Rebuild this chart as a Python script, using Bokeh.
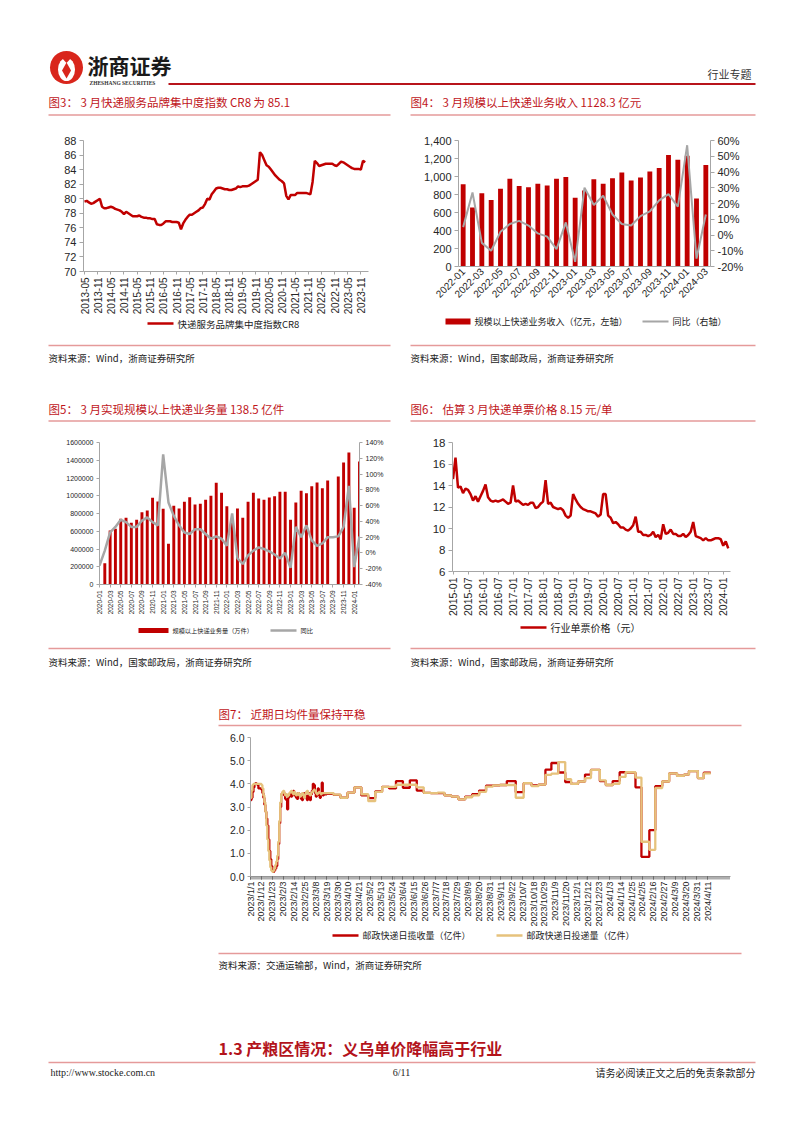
import math
from bokeh.plotting import figure
from bokeh.models import (Range1d, LinearAxis, FixedTicker, Spacer,
                          NumeralTickFormatter, PrintfTickFormatter)
from bokeh.layouts import column, row
from bokeh.embed import file_html
from bokeh.resources import INLINE
from bokeh.core.properties import value

CJK = "Noto Sans CJK SC"
SANS = "Liberation Sans"
SERIF = "Liberation Serif"
RED = "#C00000"
GREY = "#A6A6A6"
GOLD = "#E6C27C"
TITLE_RED = "#C0151B"
PINK = "#E59A9A"

# ---------------- data ----------------
# Fig 3: CR8 index, monthly from 2013-05
cr8_xlabels = ["2013-05", "2013-11", "2014-05", "2014-11", "2015-05", "2015-11", "2016-05",
               "2016-11", "2017-05", "2017-11", "2018-05", "2018-11", "2019-05", "2019-11",
               "2020-05", "2020-11", "2021-05", "2021-11", "2022-05", "2022-11", "2023-05",
               "2023-11"]
cr8_values = [79.6, 79.7, 79.5, 79.3, 79.4, 79.6, 79.8, 80.0, 78.9, 78.7,
              78.7, 78.8, 78.9, 78.8, 78.6, 78.5, 78.4, 78.2, 77.9, 78.2,
              78.0, 77.8, 77.6, 77.6, 77.6, 77.7, 77.5, 77.4, 77.4, 77.3,
              77.3, 77.2, 77.2, 76.5, 76.4, 76.4, 76.6, 76.9, 76.9, 76.9,
              76.8, 76.8, 76.8, 76.7, 75.8, 76.6, 77.1, 77.5, 77.8, 77.8,
              78.0, 78.2, 78.4, 78.7, 78.8, 79.3, 80.0, 79.9, 80.6, 81.0,
              81.4, 81.5, 81.5, 81.4, 81.3, 81.3, 81.2, 81.2, 81.3, 81.4,
              81.7, 81.6, 81.7, 81.7, 81.7, 81.8, 82.0, 82.2, 82.4, 82.6,
              86.4, 86.0, 85.3, 84.6, 84.4, 84.0, 83.6, 83.2, 82.9, 82.6,
              82.4, 82.1, 80.4, 79.9, 80.5, 80.5, 80.5, 80.8, 80.8, 80.8,
              80.8, 80.8, 80.7, 80.6, 82.3, 85.2, 84.9, 84.5, 84.6, 84.7,
              84.8, 84.8, 84.8, 84.8, 84.6, 84.5, 84.8, 85.1, 85.0, 84.8,
              84.6, 84.4, 84.2, 84.1, 84.1, 84.1, 84.0, 85.2, 85.0]
cr8_yticks = [70, 72, 74, 76, 78, 80, 82, 84, 86, 88]

# Fig 4: express revenue (100m yuan) and YoY (%)
rev_months = ["2022-01", "2022-02", "2022-03", "2022-04", "2022-05", "2022-06", "2022-07",
              "2022-08", "2022-09", "2022-10", "2022-11", "2022-12", "2023-01", "2023-02",
              "2023-03", "2023-04", "2023-05", "2023-06", "2023-07", "2023-08", "2023-09",
              "2023-10", "2023-11", "2023-12", "2024-01", "2024-02", "2024-03"]
rev_values = [915, 655, 815, 740, 865, 975, 895, 880, 920, 900, 975, 995, 765, 845,
              970, 920, 980, 1045, 955, 990, 1055, 1095, 1240, 1185, 1230, 755, 1128.3]
rev_yoy = [5, 27, -5, -10, 2, 7, 9, 6, 1, -1, -9, 8, -17, 30,
           19, 25, 13, 7, 6, 12, 15, 22, 26, 18, 57, -15, 13]
rev_yticks = [0, 200, 400, 600, 800, 1000, 1200, 1400]
rev_pticks = [-20, -10, 0, 10, 20, 30, 40, 50, 60]

# Fig 5: express volume (10k pieces) and YoY (%), 2020-01 .. 2024-02
nan = float("nan")
vol_xlabels = ["2020-01", "2020-03", "2020-05", "2020-07", "2020-09", "2020-11", "2021-01",
               "2021-03", "2021-05", "2021-07", "2021-09", "2021-11", "2022-01", "2022-03",
               "2022-05", "2022-07", "2022-09", "2022-11", "2023-01", "2023-03", "2023-05",
               "2023-07", "2023-09", "2023-11", "2024-01"]
vol_values = [nan, 240000, 608000, 627000, 740000, 751000, 695000, 729000, 815000, 834000, 977000, 935000,
              853000, 458000, 886000, 856000, 931000, 984000, 901000, 909000, 954000, 999000, 1146000, 1033000,
              883000, 700000, 856000, 751000, 931000, 1033000, 969000, 954000, 980000, 995000, 1044000, 1044000,
              729000, 924000, 1055000, 1029000, 1108000, 1149000, 1085000, 1172000, nan, 1217000, 1375000,
              1487000, 864000, 1385000]
vol_yoy = [-16, 3, 26, 33, 42, 39, 33, 33, 41, 45, 39, 35,
           125, 64, 47, 35, 26, 24, 30, 30, 24, 18, 21, 18,
           9, 50, -7, -14, -3, 3, 7, 5, 2, -2, -7, 0,
           -19, 33, 20, 35, 16, 9, 12, 20, 20, 21, 33, 85, -18, 21]
vol_yticks = [0, 200000, 400000, 600000, 800000, 1000000, 1200000, 1400000, 1600000]
vol_pticks = [-40, -20, 0, 20, 40, 60, 80, 100, 120, 140]

# Fig 6: price per parcel (yuan), monthly from 2015-01
price_xlabels = ["2015-01", "2015-07", "2016-01", "2016-07", "2017-01", "2017-07", "2018-01",
                 "2018-07", "2019-01", "2019-07", "2020-01", "2020-07", "2021-01", "2021-07",
                 "2022-01", "2022-07", "2023-01", "2023-07", "2024-01"]
price_values = [14.6, 16.6, 13.8, 13.9, 13.3, 13.7, 13.6, 13.2, 12.6, 13.0, 12.5, 13.0,
                13.5, 14.1, 12.9, 12.6, 12.5, 12.6, 12.5, 12.6, 12.7, 12.5, 12.3, 12.4,
                14.0, 12.5, 12.6, 12.4, 12.2, 12.3, 12.2, 12.4, 12.4, 11.9, 12.0, 12.3,
                12.5, 14.5, 12.3, 12.4, 12.0, 11.9, 11.8, 11.9, 11.7, 11.2, 11.0, 11.2,
                13.2, 12.7, 12.3, 12.0, 11.8, 11.7, 11.6, 11.6, 11.5, 11.4, 11.1, 11.3,
                13.2, 13.2, 11.2, 11.0, 10.5, 10.6, 10.4, 10.1, 10.1, 9.9, 9.8, 10.0,
                10.3, 11.1, 9.7, 9.7, 9.4, 9.4, 9.3, 9.4, 9.7, 9.2, 9.4, 9.0,
                10.4, 9.5, 9.6, 9.9, 9.5, 9.5, 9.3, 9.3, 9.5, 9.2, 9.4, 9.7,
                10.6, 9.3, 9.2, 9.1, 8.9, 9.1, 8.9, 8.9, 9.0, 9.1, 9.1, 9.0,
                8.4, 8.8, 8.15]
price_yticks = [6, 8, 10, 12, 14, 16, 18]

# Fig 7: daily postal express volume (100m pieces)
post_xlabels = ["2023/1/1", "2023/1/12", "2023/1/23", "2023/2/3", "2023/2/14", "2023/2/25",
                "2023/3/8", "2023/3/19", "2023/3/30", "2023/4/10", "2023/4/21", "2023/5/2",
                "2023/5/13", "2023/5/24", "2023/6/4", "2023/6/15", "2023/6/26", "2023/7/7",
                "2023/7/18", "2023/7/29", "2023/8/9", "2023/8/20", "2023/8/31", "2023/9/11",
                "2023/9/22", "2023/10/7", "2023/10/18", "2023/10/29", "2023/11/9", "2023/11/20",
                "2023/12/1", "2023/12/12", "2023/12/23", "2024/1/3", "2024/1/14", "2024/1/25",
                "2024/2/5", "2024/2/16", "2024/2/27", "2024/3/9", "2024/3/20", "2024/3/31",
                "2024/4/11"]
post_pick_daily = [3.30, 3.40, 3.65, 3.85, 4.00, 4.03, 4.00, 3.95, 3.80, 3.80,
                   3.80, 3.75, 3.60, 3.40, 3.10, 2.80, 2.50, 2.20, 1.60, 1.10,
                   0.75, 0.45, 0.25, 0.20, 0.27, 0.35, 0.45, 0.75, 1.40, 2.30,
                   3.00, 3.55, 3.60, 3.65, 3.50, 3.35, 3.30, 2.90, 3.40, 3.50,
                   3.55, 3.45, 3.60, 3.70, 3.50, 3.55, 3.40, 3.35, 3.60, 3.55,
                   3.50, 3.35, 3.30, 3.55, 3.60, 3.50, 3.40, 3.30, 3.50, 3.60,
                   3.30, 3.55, 3.70, 4.00, 3.95, 3.60, 3.45, 3.50, 3.80, 3.60,
                   3.40, 3.55, 4.05, 3.50, 3.55, 3.55, 3.55]
post_deliv_daily = [3.40, 3.70, 3.95, 4.00, 4.00, 4.00, 4.00, 4.00, 4.00, 4.00,
                    4.00, 3.95, 3.80, 3.50, 3.20, 2.80, 2.20, 1.60, 1.10, 0.70,
                    0.40, 0.25, 0.20, 0.25, 0.35, 0.50, 0.65, 0.90, 1.50, 2.40,
                    3.20, 3.55, 3.65, 3.70, 3.60, 3.50, 3.55, 3.45, 3.50, 3.60,
                    3.65, 3.70, 3.60, 3.55, 3.65, 3.60, 3.50, 3.55, 3.60, 3.50,
                    3.45, 3.55, 3.60, 3.50, 3.40, 3.55, 3.65, 3.70, 3.60, 3.55,
                    3.50, 3.60, 3.65, 3.70, 3.75, 3.70, 3.60, 3.55, 3.60, 3.65,
                    3.60, 3.55, 3.60, 3.60, 3.60, 3.60, 3.60]
post_week_start = [77, 84, 91, 98, 105, 112, 119, 126, 133, 140,
                   147, 154, 161, 168, 175, 182, 189, 196, 203, 210,
                   217, 224, 231, 238, 245, 252, 259, 268, 276, 284,
                   291, 298, 304, 311, 318, 324, 331, 338, 344, 353,
                   359, 366, 373, 379, 389, 395, 403, 409, 416, 423,
                   431, 438, 443, 452, 458]
post_week_pick = [3.57, 3.52, 3.40, 3.62, 3.85, 3.50, 3.38, 3.67, 3.87, 3.80,
                  4.12, 3.83, 4.15, 3.71, 3.61, 3.60, 3.60, 3.50, 3.45, 3.33,
                  3.45, 3.55, 3.71, 3.92, 3.93, 3.95, 4.12, 3.64, 4.03, 3.93,
                  3.97, 4.61, 4.90, 4.49, 4.08, 4.00, 4.10, 4.40, 4.60, 4.12,
                  3.95, 4.12, 4.50, 4.48, 3.85, 0.85, 2.00, 3.90, 4.10, 4.45,
                  4.35, 4.40, 4.55, 4.25, 4.48]
post_week_deliv = [3.60, 3.53, 3.40, 3.62, 3.85, 3.55, 3.25, 3.65, 3.87, 3.87,
                   3.96, 3.96, 3.96, 3.85, 3.61, 3.60, 3.62, 3.50, 3.45, 3.33,
                   3.42, 3.50, 3.65, 3.88, 3.93, 3.95, 3.95, 3.40, 4.03, 3.90,
                   3.97, 4.39, 4.44, 4.94, 4.20, 4.00, 4.10, 4.25, 4.60, 4.15,
                   3.95, 4.00, 4.30, 4.50, 4.27, 1.50, 1.15, 3.82, 4.10, 4.45,
                   4.35, 4.40, 4.55, 4.25, 4.45]
post_last_day = 465
post_yticks = [0, 1, 2, 3, 4, 5, 6]

W = 786


# ---------------- helpers ----------------
def band(top, h):
    p = figure(width=W, height=h, x_range=Range1d(0, W), y_range=Range1d(top + h, top),
               x_axis_location=None, y_axis_location=None, toolbar_location=None,
               output_backend="svg", min_border=0, outline_line_color=None)
    p.xgrid.visible = False
    p.ygrid.visible = False
    return p


def txt(p, x, y, s, size, color="#222222", font=CJK, align="left", bold=False):
    p.text(x=[x], y=[y], text=[s], text_font=value(font), text_font_size=f"{size}px",
           text_color=color, text_align=align, text_baseline="middle",
           text_font_style="bold" if bold else "normal")


def hline(p, x0, x1, y, color=PINK, width=1.6):
    p.segment(x0=[x0], y0=[y], x1=[x1], y1=[y], line_color=color, line_width=width)


def leg_line(p, x0, y, label, size, color, width=2.5):
    p.segment(x0=[x0], y0=[y], x1=[x0 + 26], y1=[y], line_color=color, line_width=width)
    txt(p, x0 + 30, y, label, size)


def leg_bar(p, x0, y, label, size, w, h):
    p.quad(left=[x0], right=[x0 + w], top=[y - h / 2], bottom=[y + h / 2],
           fill_color=RED, line_color=None)
    txt(p, x0 + w + 4, y, label, size)


def chart(fw, fh, xr, yr, left, right, top, bottom):
    p = figure(frame_width=fw, frame_height=fh, x_range=xr, y_range=yr, toolbar_location=None,
               output_backend="svg", min_border_left=left, min_border_right=right,
               min_border_top=top, min_border_bottom=bottom, outline_line_color=None)
    p.xgrid.visible = False
    p.ygrid.visible = False
    return p


def style_axis(ax, size, tick_out=4, color="#262626", line=GREY):
    ax.axis_line_color = line
    ax.major_tick_line_color = line
    ax.major_tick_out = tick_out
    ax.major_tick_in = 0
    ax.minor_tick_line_color = None
    ax.major_label_text_font = SANS
    ax.major_label_text_font_size = f"{size}px"
    ax.major_label_text_color = color
    ax.major_label_standoff = 3


# ---------------- band A: header + titles 3/4 ----------------
bA = band(0, 118)
bA.ellipse(x=[66], y=[67], width=33, height=33, fill_color="#D9261C", line_color=None)
bA.ellipse(x=[66], y=[69], width=17, height=23, fill_color="white", line_color=None)
bA.patch(x=[66, 70.5, 66, 61.5], y=[62, 70, 78, 70], fill_color="#D9261C", line_color=None)
bA.patch(x=[60, 66, 72], y=[56, 62.5, 56], fill_color="#D9261C", line_color=None)
txt(bA, 87, 64, "浙商证券", 21, color="#1a1a1a", bold=True)
txt(bA, 89, 82, "ZHESHANG SECURITIES", 5.5, color="#333333", font=SERIF, bold=True)
hline(bA, 168, 755, 83.5, color="#B8141B", width=2)
txt(bA, 751, 73, "行业专题", 11, color="#333333", align="right")
txt(bA, 48, 101, "图3：  3 月快递服务品牌集中度指数 CR8 为 85.1", 11.5, color=TITLE_RED)
txt(bA, 410, 101, "图4：  3 月规模以上快递业务收入 1128.3 亿元", 11.5, color=TITLE_RED)
hline(bA, 48, 390, 114.5)
hline(bA, 410, 755, 114.5)

# ---------------- Fig 3 ----------------
p3 = chart(285, 131, Range1d(-0.46, 129.5), Range1d(70, 88), 35, 27, 18, 49)
p3.line(list(range(len(cr8_values))), cr8_values, line_color=RED, line_width=2.5)
style_axis(p3.yaxis[0], 11)
p3.yaxis.ticker = FixedTicker(ticks=cr8_yticks)
style_axis(p3.xaxis[0], 10, tick_out=3)
cr8_ticks = [i * 6 for i in range(len(cr8_xlabels))]
p3.xaxis.ticker = FixedTicker(ticks=cr8_ticks)
p3.xaxis.major_label_overrides = dict(zip(cr8_ticks, cr8_xlabels))
p3.xaxis.major_label_orientation = math.pi / 2

# ---------------- Fig 4 ----------------
p4 = chart(252, 126, Range1d(-0.5, 26.5), Range1d(0, 1400), 63, 76, 22, 50)
p4.extra_y_ranges = {"yoy": Range1d(-20, 60)}
x4 = list(range(len(rev_values)))
p4.vbar(x=x4, top=rev_values, width=0.52, fill_color=RED, line_color=None)
p4.line(x4, rev_yoy, y_range_name="yoy", line_color=GREY, line_width=2)
style_axis(p4.yaxis[0], 11)
p4.yaxis.ticker = FixedTicker(ticks=rev_yticks)
p4.yaxis.formatter = NumeralTickFormatter(format="0,0")
ax4 = LinearAxis(y_range_name="yoy", ticker=FixedTicker(ticks=rev_pticks),
                 formatter=PrintfTickFormatter(format="%d%%"))
style_axis(ax4, 11)
p4.add_layout(ax4, "right")
style_axis(p4.xaxis[0], 10, tick_out=0)
rev_ticks = list(range(0, len(rev_months), 2))
p4.xaxis.ticker = FixedTicker(ticks=rev_ticks)
p4.xaxis.major_label_overrides = {i: rev_months[i] for i in rev_ticks}
p4.xaxis.major_label_orientation = math.pi / 4

# ---------------- band B ----------------
bB = band(316, 109)
leg_line(bB, 147, 323, "快递服务品牌集中度指数CR8", 9.5, RED)
leg_bar(bB, 445, 321, "规模以上快递业务收入（亿元，左轴）", 9, 25, 6)
leg_line(bB, 642, 321, "同比（右轴）", 9, GREY, width=2)
hline(bB, 48, 390, 345)
hline(bB, 410, 755, 345)
txt(bB, 48, 357, "资料来源：Wind，浙商证券研究所", 9.5)
txt(bB, 410, 357, "资料来源：Wind，国家邮政局，浙商证券研究所", 9.5)
txt(bB, 48, 408, "图5：  3 月实现规模以上快递业务量 138.5 亿件", 11.5, color=TITLE_RED)
txt(bB, 410, 408, "图6：  估算 3 月快递单票价格 8.15 元/单", 11.5, color=TITLE_RED)
hline(bB, 48, 390, 420.5)
hline(bB, 410, 755, 420.5)

# ---------------- Fig 5 ----------------
p5 = chart(260, 142, Range1d(0, 49), Range1d(0, 1600000), 51, 36, 17, 34)
p5.extra_y_ranges = {"yoy": Range1d(-40, 140)}
x5 = list(range(len(vol_values)))
p5.vbar(x=x5, top=vol_values, width=0.55, fill_color=RED, line_color=None)
p5.line(x5, vol_yoy, y_range_name="yoy", line_color=GREY, line_width=2.5)
style_axis(p5.yaxis[0], 7, tick_out=3)
p5.yaxis.ticker = FixedTicker(ticks=vol_yticks)
p5.yaxis.formatter = NumeralTickFormatter(format="0")
ax5 = LinearAxis(y_range_name="yoy", ticker=FixedTicker(ticks=vol_pticks),
                 formatter=PrintfTickFormatter(format="%d%%"))
style_axis(ax5, 7, tick_out=3)
p5.add_layout(ax5, "right")
style_axis(p5.xaxis[0], 6.5, tick_out=3)
vol_ticks = [i * 2 for i in range(len(vol_xlabels))]
p5.xaxis.ticker = FixedTicker(ticks=vol_ticks)
p5.xaxis.major_label_overrides = dict(zip(vol_ticks, vol_xlabels))
p5.xaxis.major_label_orientation = math.pi / 2

# ---------------- Fig 6 ----------------
p6 = chart(278, 129, Range1d(-0.2, 110.9), Range1d(6, 18), 57, 56, 10, 54)
p6.line(list(range(len(price_values))), price_values, line_color=RED, line_width=2.5)
style_axis(p6.yaxis[0], 11.5)
p6.yaxis.ticker = FixedTicker(ticks=price_yticks)
style_axis(p6.xaxis[0], 10.5, tick_out=3)
price_ticks = [i * 6 for i in range(len(price_xlabels))]
p6.xaxis.ticker = FixedTicker(ticks=price_ticks)
p6.xaxis.major_label_overrides = dict(zip(price_ticks, price_xlabels))
p6.xaxis.major_label_orientation = math.pi / 2

# ---------------- band C ----------------
bC = band(618, 110)
leg_bar(bC, 138, 630, "规模以上快递业务量（万件）", 6.2, 30, 5)
leg_line(bC, 270, 630, "同比", 6.2, GREY)
leg_line(bC, 520, 627, "行业单票价格（元）", 10, RED)
hline(bC, 48, 390, 648)
hline(bC, 410, 755, 648)
txt(bC, 48, 661, "资料来源：Wind，国家邮政局，浙商证券研究所", 9.5)
txt(bC, 410, 661, "资料来源：Wind，国家邮政局，浙商证券研究所", 9.5)
txt(bC, 218, 713, "图7：  近期日均件量保持平稳", 11.5, color=TITLE_RED)
hline(bC, 218, 741, 725)

# ---------------- Fig 7 ----------------
p7 = chart(480, 139, Range1d(0, 485), Range1d(0, 6), 45, 56, 9, 54)
n_daily = len(post_pick_daily)
x7 = list(range(n_daily)) + post_week_start + [post_last_day]
y7a = post_pick_daily + post_week_pick + [post_week_pick[-1]]
y7b = post_deliv_daily + post_week_deliv + [post_week_deliv[-1]]
p7.step(x7, y7a, mode="after", line_color=RED, line_width=2.3)
p7.step(x7, y7b, mode="after", line_color=GOLD, line_width=2.3)
style_axis(p7.yaxis[0], 10.5, tick_out=3)
p7.yaxis.ticker = FixedTicker(ticks=post_yticks)
p7.yaxis.formatter = NumeralTickFormatter(format="0.0")
style_axis(p7.xaxis[0], 9, tick_out=3, line="#9A9A9A")
post_ticks = [i * 11 for i in range(len(post_xlabels))]
p7.xaxis.ticker = FixedTicker(ticks=post_ticks, minor_ticks=list(range(0, 485)))
p7.xaxis.minor_tick_line_color = "#8C8C8C"
p7.xaxis.minor_tick_line_width = 0.7
p7.xaxis.minor_tick_out = 3
p7.xaxis.minor_tick_in = 0
p7.xaxis.major_tick_line_color = "#222222"
p7.xaxis.major_label_standoff = 2
p7.xaxis.major_label_overrides = dict(zip(post_ticks, post_xlabels))
p7.xaxis.major_label_orientation = math.pi / 2

# ---------------- band D: legend 7, source, heading, footer ----------------
bD = band(930, 195)
leg_line(bD, 332, 935, "邮政快递日揽收量（亿件）", 9, RED)
leg_line(bD, 496, 935, "邮政快递日投递量（亿件）", 9, GOLD)
hline(bD, 218, 741, 953)
txt(bD, 218, 964, "资料来源：交通运输部，Wind，浙商证券研究所", 9.5)
txt(bD, 218, 1047, "1.3 产粮区情况：义乌单价降幅高于行业", 16, color="#B3131B", bold=True)
hline(bD, 48, 755, 1062, color=PINK, width=1.6)
txt(bD, 50, 1072, "http://www.stocke.com.cn", 10, color="#222222", font=SERIF)
txt(bD, 401, 1072, "6/11", 10, color="#222222", font=SERIF, align="center")
txt(bD, 755, 1072, "请务必阅读正文之后的免责条款部分", 10, color="#222222", align="right")

layout = column(
    bA,
    row(Spacer(width=48, height=198), p3, p4),
    bB,
    row(Spacer(width=48, height=193), p5, p6),
    bC,
    row(Spacer(width=205, height=202), p7),
    bD,
)

open("out.html", "w").write(file_html(layout, INLINE))
